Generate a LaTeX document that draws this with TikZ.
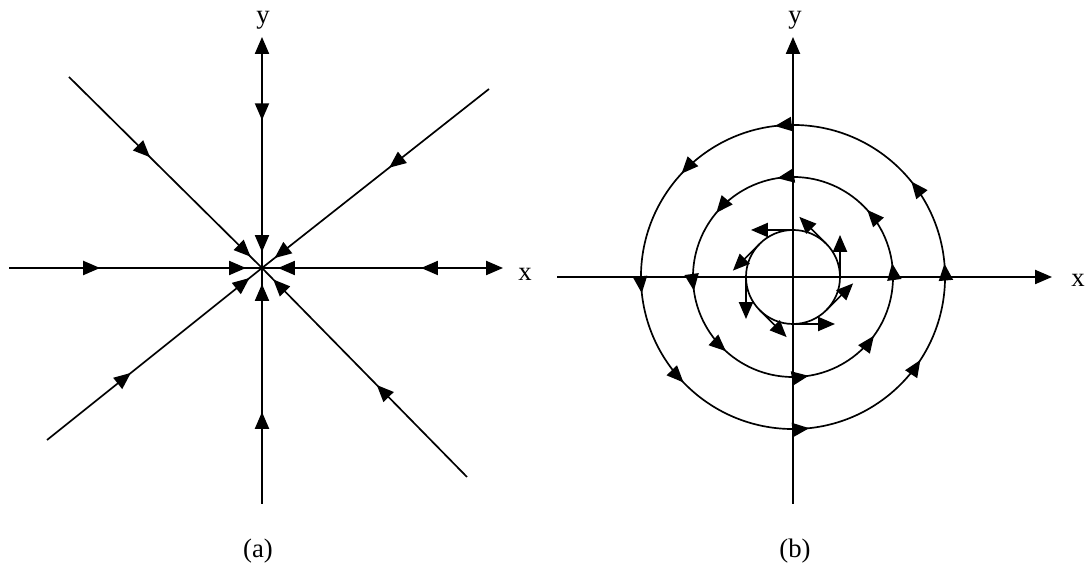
\documentclass[tikz,border=0pt]{standalone}
\usepackage{fontspec}
\setmainfont{Liberation Serif}
\usetikzlibrary{arrows.meta,decorations.markings,calc}
\begin{document}
\begin{tikzpicture}[x=0.025cm,y=0.025cm,line width=1.2pt,
  tri/.tip={Triangle[length=12pt,width=10pt]},
  lab/.style={font=\fontsize{19}{22}\selectfont, inner sep=0pt, anchor=base},
  ray/.style={postaction={decorate},decoration={markings,
     mark=at position #1 with {\arrow{tri}},
     mark=at position -0.40cm with {\arrow{tri}}}}]
\useasboundingbox (0,0) rectangle (1088,564);

% ---------- panel (a): stable node ----------
\coordinate (A) at (262,296);
\coordinate (AT) at (262,527);
\coordinate (AB) at (262,60);
\coordinate (AL) at (9,296);
\coordinate (AR) at (503,296);
\coordinate (AUL) at (69,487);
\coordinate (AUR) at (489,475);
\coordinate (ALL) at (47,124);
\coordinate (ALR) at (467,87);
\draw[ray=0.36, arrows={tri-}] (AT) -- (A);
\draw[ray=0.34, arrows={tri-}] (AR) -- (A);
\draw[ray=0.39] (AB) -- (A);
\draw[ray=0.36] (AL) -- (A);
\draw[ray=0.42] (AUL) -- (A);
\draw[ray=0.44] (AUR) -- (A);
\draw[ray=0.39] (ALL) -- (A);
\draw[ray=0.44] (ALR) -- (A);
\node[lab] (ya) at (263,540) {y};
\node[lab] (xa) at (525,283) {x};
\node[lab] (la) at (258,6) {(a)};

% ---------- panel (b): centre ----------
\coordinate (B) at (793,287);
\coordinate (BT) at (793,527);
\coordinate (BB) at (793,60);
\coordinate (BL) at (557,287);
\coordinate (BR) at (1052,287);
\draw[arrows={-tri}] (BB) -- (BT);
\draw[arrows={-tri}] (BL) -- (BR);

\draw[postaction={decorate},decoration={markings,
   mark=at position 0.014 with {\arrow{tri}},
   mark=at position 0.108 with {\arrow{tri}},
   mark=at position 0.269 with {\arrow{tri}},
   mark=at position 0.381 with {\arrow{tri}},
   mark=at position 0.517 with {\arrow{tri}},
   mark=at position 0.622 with {\arrow{tri}},
   mark=at position 0.767 with {\arrow{tri}},
   mark=at position 0.908 with {\arrow{tri}}}]
  ($(B)+(3.8cm,0)$) coordinate (O1) arc[start angle=0,end angle=360,radius=3.8cm];

\draw[postaction={decorate},decoration={markings,
   mark=at position 0.022 with {\arrow{tri}},
   mark=at position 0.117 with {\arrow{tri}},
   mark=at position 0.275 with {\arrow{tri}},
   mark=at position 0.389 with {\arrow{tri}},
   mark=at position 0.522 with {\arrow{tri}},
   mark=at position 0.633 with {\arrow{tri}},
   mark=at position 0.775 with {\arrow{tri}},
   mark=at position 0.900 with {\arrow{tri}}}]
  ($(B)+(2.5cm,0)$) coordinate (O2) arc[start angle=0,end angle=360,radius=2.5cm];

\draw (B) circle[radius=1.175cm];
\foreach \t/\l in {0/1.05,45/0.95,90/1.05,135/0.95,180/1.05,225/0.95,270/1.05,315/0.95}
  \draw[arrows={-tri}] ($(B)+(\t:1.175cm)$) coordinate (p\t) -- ++(\t+90:\l cm) coordinate (q\t);

\node[lab] (yb) at (795,540) {y};
\node[lab] (xb) at (1078,277) {x};
\node[lab] (lb) at (795,6) {(b)};
\end{tikzpicture}
\end{document}
